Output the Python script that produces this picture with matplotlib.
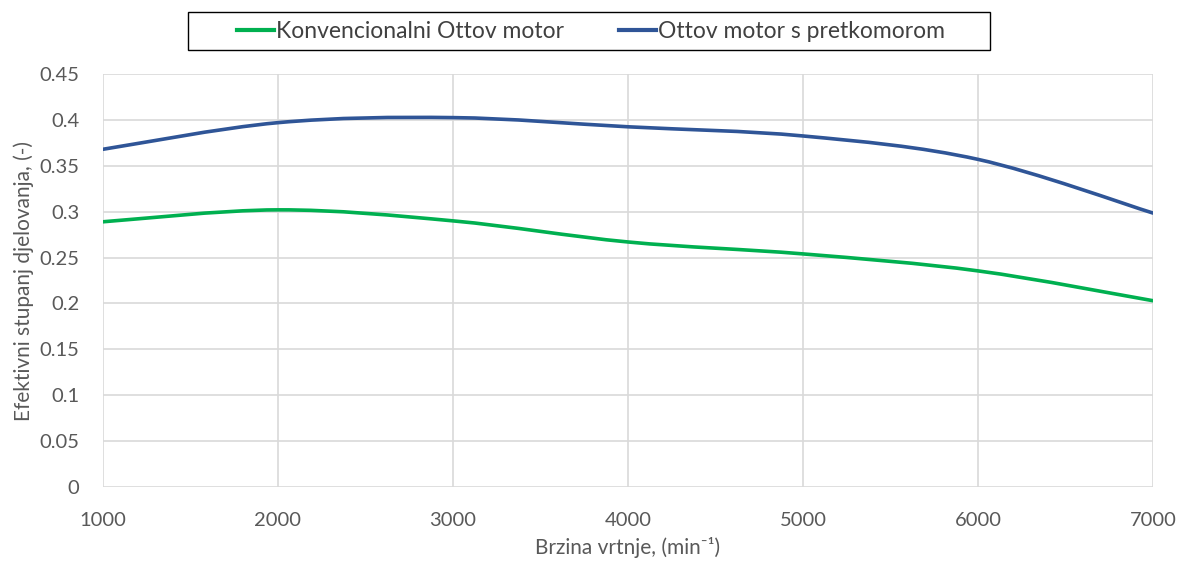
import numpy as np
import matplotlib.pyplot as plt
from matplotlib.path import Path
from matplotlib.patches import PathPatch, Rectangle
from matplotlib.lines import Line2D

plt.rcParams['font.family'] = ['Lato', 'DejaVu Sans']
plt.rcParams['mathtext.default'] = 'regular'

brzina = [1000, 2000, 3000, 4000, 5000, 6000, 7000]
konvencionalni = [0.289, 0.302, 0.290, 0.267, 0.254, 0.2355, 0.203]
pretkomora = [0.368, 0.397, 0.4025, 0.3925, 0.3825, 0.357, 0.2985]

naziv_konv = 'Konvencionalni Ottov motor'
naziv_pret = 'Ottov motor s pretkomorom'


def smooth_path(x, y):
    # Excel-like smoothed line: Bezier segments with Catmull-Rom control points
    x = np.asarray(x, float)
    y = np.asarray(y, float)
    pts = np.column_stack([x, y])
    verts = [pts[0]]
    codes = [Path.MOVETO]
    n = len(pts)
    for i in range(n - 1):
        p0 = pts[max(i - 1, 0)]
        p1 = pts[i]
        p2 = pts[i + 1]
        p3 = pts[min(i + 2, n - 1)]
        c1 = p1 + (p2 - p0) / 6
        c2 = p2 - (p3 - p1) / 6
        verts += [c1, c2, p2]
        codes += [Path.CURVE4] * 3
    return Path(verts, codes)


fig = plt.figure(figsize=(11.85, 5.65), dpi=100)
ax = fig.add_axes([0.0869, 0.138, 0.8861, 0.731])

green = '#00B050'
blue = '#2F5597'
txt = '#595959'

for ys, c in [(konvencionalni, green), (pretkomora, blue)]:
    ax.add_patch(PathPatch(smooth_path(brzina, ys), facecolor='none',
                           edgecolor=c, lw=2.6, capstyle='round', zorder=3))

ax.set_xlim(1000, 7000)
ax.set_ylim(0, 0.45)
ax.set_xticks(np.arange(1000, 7001, 1000))
ax.set_yticks(np.arange(0, 0.451, 0.05))
ax.set_yticklabels(['0', '0.05', '0.1', '0.15', '0.2', '0.25', '0.3', '0.35', '0.4', '0.45'])
ax.grid(True, color='#d9d9d9', lw=1.2)
ax.set_axisbelow(True)
for s in ax.spines.values():
    s.set_visible(False)
ax.tick_params(length=0, labelsize=14.5, colors=txt)
ax.tick_params(axis='y', pad=17)
ax.tick_params(axis='x', pad=18)

ax.set_xlabel('Brzina vrtnje, (min⁻¹)', fontsize=15, color=txt, labelpad=6)
ax.set_ylabel('Efektivni stupanj djelovanja, (-)', fontsize=15, color=txt, labelpad=4)

# legend frame: wide box like the original
fig.add_artist(Rectangle((188 / 1185, 1 - 50 / 565), 802 / 1185, 38 / 565,
                         transform=fig.transFigure, facecolor='white',
                         edgecolor='#000000', lw=1.0))
handles = [Line2D([], [], color=green, lw=3), Line2D([], [], color=blue, lw=3)]
leg = fig.legend(handles, [naziv_konv, naziv_pret], loc='center', ncol=2,
                 bbox_to_anchor=(0.499, 0.945), fontsize=16.5, frameon=False,
                 handlelength=1.6, handletextpad=0.1, columnspacing=2.4,
                 labelcolor='#404040')

fig.savefig('out.png', dpi=100)
